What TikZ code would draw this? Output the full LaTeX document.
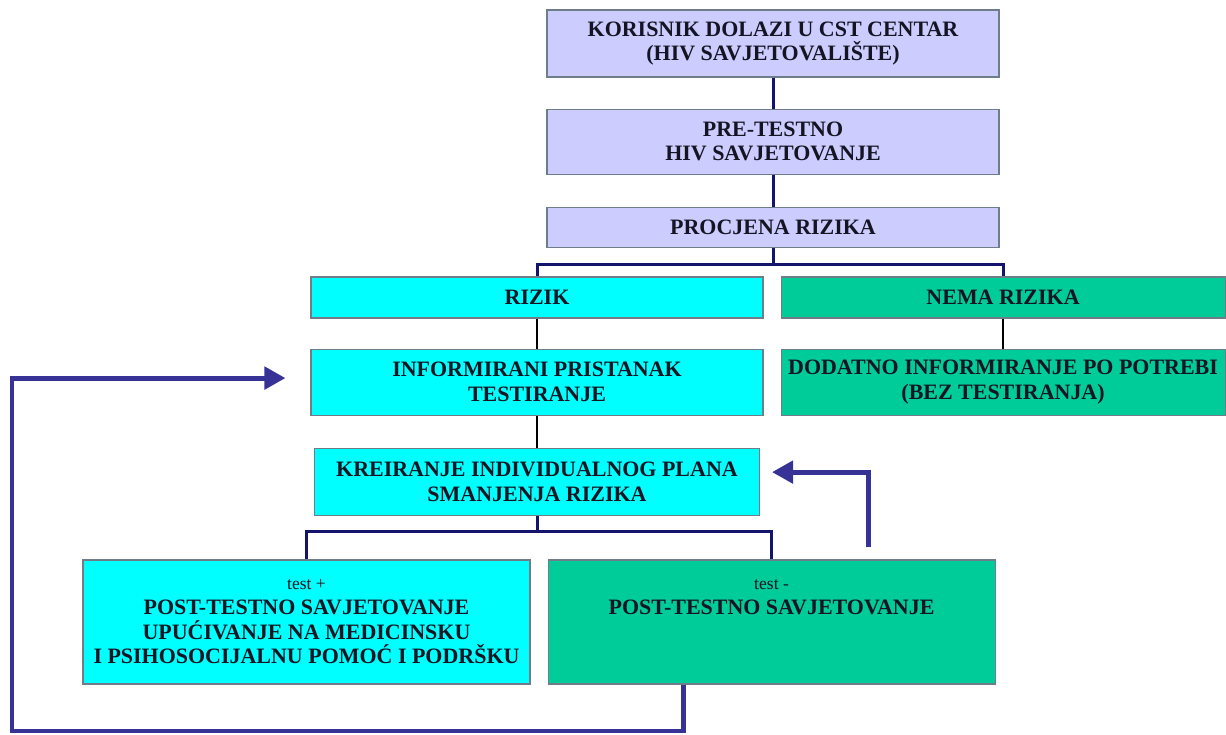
\documentclass[tikz,border=0pt]{standalone}
\usepackage{fontspec}
\setmainfont{Liberation Serif}
\usetikzlibrary{positioning,arrows.meta}
\definecolor{lavenderFill}{RGB}{204,204,255}
\definecolor{cyanFill}{RGB}{0,255,255}
\definecolor{greenFill}{RGB}{0,204,153}
\definecolor{boxBorder}{RGB}{110,125,135}
\definecolor{treeNavy}{RGB}{20,20,110}
\definecolor{loopBlue}{RGB}{55,50,150}
\definecolor{inkDark}{RGB}{20,20,35}
\newcommand{\smallTest}[1]{{\normalfont\fontsize{10}{12}\selectfont #1}}

\begin{document}
\begin{tikzpicture}[
							stage/.style = {
								draw = boxBorder,
								line width = 0.6pt,
								rectangle,
								align = center,
								text = inkDark,
								font = \fontsize{12.5}{14}\selectfont\bfseries,
								inner sep = 2pt,
							},
							intake/.style = {
								stage,
								fill = lavenderFill,
								minimum width = 9.04cm,
							},
							risk/.style = {
								stage,
								fill = cyanFill,
								minimum width = 9.04cm,
							},
							noRisk/.style = {
								stage,
								fill = greenFill,
								minimum width = 8.88cm,
							},
							tree/.style = {
								draw = treeNavy,
								line width = 1.7pt,
							},
							thin/.style = {
								draw = black,
								line width = 0.7pt,
							},
							loopback/.style = {
								draw = loopBlue,
								line width = 2.8pt,
								-{Triangle[length = 0.42cm, width = 0.44cm]},
							}
						]
					\useasboundingbox (0,0) rectangle (24.52,-14.68);

					\node [intake, minimum height = 1.34cm] (korisnik) at (15.46,-0.87) {KORISNIK DOLAZI U CST CENTAR\\(HIV SAVJETOVALIŠTE)};
					\node [intake, minimum height = 1.30cm, below = 0.62 of korisnik] (preTest) {PRE-TESTNO\\HIV SAVJETOVANJE};
					\node [intake, minimum height = 0.80cm, below = 0.64 of preTest] (procjena) {PROCJENA RIZIKA};

					\node [risk, minimum height = 0.82cm] (rizik) at (10.74,-5.95) {RIZIK};
					\node [noRisk, minimum height = 0.82cm, right = 0.34 of rizik] (nemaRizika) {NEMA RIZIKA};
					\node [risk, minimum height = 1.32cm, below = 0.60 of rizik] (informirani) {INFORMIRANI PRISTANAK\\TESTIRANJE};
					\node [noRisk, minimum height = 1.32cm, below = 0.60 of nemaRizika] (dodatno) {DODATNO INFORMIRANJE PO POTREBI\\(BEZ TESTIRANJA)};
					\node [risk, minimum width = 8.90cm, minimum height = 1.34cm, below = 0.64 of informirani] (kreiranje) {KREIRANJE INDIVIDUALNOG PLANA\\SMANJENJA RIZIKA};

					\node [risk, minimum width = 8.94cm, minimum height = 2.48cm] (testPlus) at (6.13,-12.44) {\smallTest{test +}\\POST-TESTNO SAVJETOVANJE\\UPUĆIVANJE NA MEDICINSKU\\I PSIHOSOCIJALNU POMOĆ I PODRŠKU};
					\node [noRisk, minimum width = 8.94cm, minimum height = 2.48cm, right = 0.34 of testPlus] (testMinus) {};
					\node [stage, draw = none, inner sep = 0pt, below = 0.40 of testMinus.north] (testMinusText) {\smallTest{test -}\\POST-TESTNO SAVJETOVANJE};

					\coordinate (splitRisk) at ([yshift = -0.34cm] procjena.south);
					\coordinate (splitTest) at ([yshift = -0.32cm] kreiranje.south);
					\coordinate (loopCorner) at (0.24,-14.62);

					\draw [tree] (korisnik) to (preTest);
					\draw [tree] (preTest) to (procjena);
					\draw [tree] (procjena.south) to (splitRisk);
					\draw [tree] (rizik.north) |- (splitRisk) -| (nemaRizika.north);

					\draw [thin] (rizik) to (informirani);
					\draw [thin] (nemaRizika) to (dodatno);
					\draw [thin] (informirani.south) to (informirani.south |- kreiranje.north);

					\draw [tree] (kreiranje.south) to (splitTest);
					\draw [tree] (testPlus.north) |- (splitTest) -| (testMinus.north);

					\draw [loopback] ([xshift = 1.93cm, yshift = 0.24cm] testMinus.north) |- ([xshift = 0.24cm, yshift = 0.19cm] kreiranje.east);
					\draw [loopback] ([xshift = -1.77cm] testMinus.south) |- (loopCorner) |- ([xshift = -0.50cm, yshift = 0.08cm] informirani.west);
				\end{tikzpicture}
\end{document}
